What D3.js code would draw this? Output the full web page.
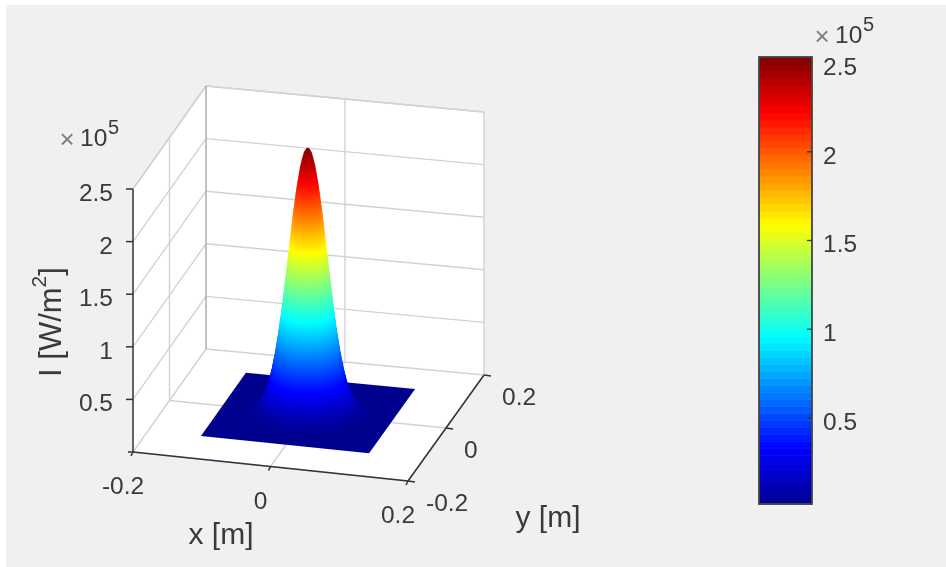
<!DOCTYPE html>
<html>
<head>
<meta charset="utf-8">
<script src="https://cdnjs.cloudflare.com/ajax/libs/d3/7.8.5/d3.min.js"></script>
<style>
html,body{margin:0;padding:0;background:#fff;overflow:hidden}
svg{display:block}
text{font-family:"Liberation Sans",Arial,sans-serif;fill:#3a3a3a}
#root{filter:blur(0.6px)}
</style>
</head>
<body>
<svg id="chart" width="946" height="567"></svg>
<script>
// ---- data ----
const xTicks = [-0.2, 0, 0.2];
const yTicks = [-0.2, 0, 0.2];
const zTicks = [0.5, 1, 1.5, 2, 2.5];
const cbTicks = [0.5, 1, 1.5, 2, 2.5];
const xLabels = ["-0.2", "0", "0.2"];
const yLabels = ["-0.2", "0", "0.2"];
const zLabels = ["0.5", "1", "1.5", "2", "2.5"];
const cbLabels = ["0.5", "1", "1.5", "2", "2.5"];
// radial beam profile: radius [m], intensity [1e5 W/m^2]
const profileRadius    = [0, 0.0025, 0.005, 0.0075, 0.01, 0.015, 0.02, 0.025, 0.03, 0.035, 0.04, 0.045, 0.05, 0.055, 0.06, 0.065, 0.07, 0.08, 0.09];
const profileIntensity = [2.534, 2.52, 2.49, 2.43, 2.36, 2.16, 1.91, 1.62, 1.33, 1.05, 0.80, 0.59, 0.42, 0.285, 0.195, 0.12, 0.07, 0.03, 0.015];
const plateHalfWidth = 0.122;
const zRange = [0, 2.5];
const colorRange = [0.015, 2.534];
const jetStops = [0, 0.125, 0.375, 0.625, 0.875, 1];
const jetColors = ["#00008f", "#0000ff", "#00ffff", "#ffff00", "#ff0000", "#800000"];

// ---- layout ----
const svg = d3.select("#chart");
const GRID = "#d2d2d2", EDGE = "#a8a8a8", AXIS = "#333333";
const c00 = [133, 452], c10 = [408, 481], c11 = [484, 375], c01 = [206, 349];
const u = d3.scaleLinear().domain([-0.2, 0.2]).range([0, 1]);
const v = d3.scaleLinear().domain([-0.2, 0.2]).range([0, 1]);
const zPx = d3.scaleLinear().domain(zRange).range([0, 263]);
function proj(x, y, z) {
  const a = u(x), b = v(y);
  const px = (1-a)*(1-b)*c00[0] + a*(1-b)*c10[0] + a*b*c11[0] + (1-a)*b*c01[0];
  const py = (1-a)*(1-b)*c00[1] + a*(1-b)*c10[1] + a*b*c11[1] + (1-a)*b*c01[1];
  return [px, py - zPx(z)];
}
const line = d3.line();
const jet = d3.scaleLinear().domain(jetStops).range(jetColors).clamp(true);
const colorT = d3.scaleLinear().domain(colorRange).range([0, 1]);
const colorOf = z => jet(colorT(z));
const lo = -0.2, hi = 0.2, zTop = zRange[1];

// figure background
svg.append("rect").attr("x", 6).attr("y", 5).attr("width", 940).attr("height", 562).attr("fill", "#f0f0f0");
const root = svg.append("g").attr("id", "root");

// axes panes
root.append("path").attr("fill", "#fff")
  .attr("d", line([proj(lo,lo,0), proj(hi,lo,0), proj(hi,hi,0), proj(hi,hi,zTop), proj(lo,hi,zTop), proj(lo,lo,zTop)]) + "Z");

// grid
const grid = root.append("g").attr("fill", "none").attr("stroke", GRID).attr("stroke-width", 1.4);
const seg = (a, b, col) => grid.append("path").attr("d", line([a, b])).attr("stroke", col || GRID);
zTicks.forEach(z => {
  seg(proj(lo,lo,z), proj(lo,hi,z));
  seg(proj(lo,hi,z), proj(hi,hi,z));
});
xTicks.forEach(x => {
  seg(proj(x,lo,0), proj(x,hi,0));
  if (x > lo && x < hi) seg(proj(x,hi,0), proj(x,hi,zTop));
});
yTicks.forEach(y => {
  seg(proj(lo,y,0), proj(hi,y,0));
  if (y > lo && y < hi) seg(proj(lo,y,0), proj(lo,y,zTop));
});
seg(proj(lo,lo,zTop), proj(lo,hi,zTop));
seg(proj(lo,hi,zTop), proj(hi,hi,zTop));
seg(proj(hi,hi,0), proj(hi,hi,zTop));
seg(proj(lo,hi,0), proj(lo,hi,zTop), EDGE);

// surface: base plate then stacked contour rings of the profile, low to high
const surf = root.append("g");
const base = profileIntensity[profileIntensity.length - 1];
const w = plateHalfWidth;
surf.append("path").attr("fill", colorOf(base))
  .attr("d", line([proj(-w,-w,base), proj(w,-w,base), proj(w,w,base), proj(-w,w,base)]) + "Z");
const radiusAt = d3.scaleLinear().domain(profileIntensity).range(profileRadius);
const peak = profileIntensity[0];
const levels = d3.range(base, peak, 0.008);
const angles = d3.range(0, 2 * Math.PI, Math.PI / 36);
surf.selectAll("path.ring").data(levels).join("path")
  .attr("class", "ring")
  .attr("fill", d => colorOf(d))
  .attr("stroke", d => colorOf(d))
  .attr("stroke-width", 0.6)
  .attr("d", z => {
    const r = radiusAt(z);
    return line(angles.map(t => proj(r * Math.cos(t), r * Math.sin(t), z))) + "Z";
  });

// axis lines
const ax = root.append("g").attr("fill", "none").attr("stroke", AXIS).attr("stroke-width", 1.5);
const axSeg = (a, b) => ax.append("path").attr("d", line([a, b]));
axSeg(proj(lo,lo,0), proj(hi,lo,0));
axSeg(proj(hi,lo,0), proj(hi,hi,0));
axSeg(proj(lo,lo,0), proj(lo,lo,zTop));
const shift = (p, dx, dy) => [p[0] + dx, p[1] + dy];
xTicks.forEach(x => { const p = proj(x,lo,0); axSeg(p, shift(p, -2, 4)); });
yTicks.forEach(y => { const p = proj(hi,y,0); axSeg(p, shift(p, 7, 1)); });
zTicks.forEach(z => { const p = proj(lo,lo,z); axSeg(p, shift(p, -7, 0)); });
{ const p = proj(lo,lo,0); axSeg(p, shift(p, -5, 0)); }

// tick labels
const FS = 24.5;
const label = (x, y, s, anchor, size) => root.append("text").attr("x", x).attr("y", y)
  .attr("text-anchor", anchor || "middle").attr("font-size", size || FS).text(s);
xTicks.forEach((x, i) => { const p = proj(x,lo,0); label(p[0] - 10, p[1] + 42, xLabels[i]); });
yTicks.forEach((y, i) => { const p = proj(hi,y,0); label(p[0] + 18, p[1] + 30, yLabels[i], "start"); });
zTicks.forEach((z, i) => { const p = proj(lo,lo,z); label(p[0] - 20, p[1] + 12, zLabels[i], "end"); });

// axis titles
label(221, 544, "x [m]", "middle", 30);
label(548, 527, "y [m]", "middle", 30);
const zt = root.append("text").attr("transform", "translate(61,322) rotate(-90)")
  .attr("text-anchor", "middle").attr("font-size", 31);
zt.append("tspan").text("I [W/m");
zt.append("tspan").attr("dy", -15).attr("font-size", 21).text("2");
zt.append("tspan").attr("dy", 15).text("]");

// exponent labels
function expo(xMark, xTen, y) {
  label(xMark, y + 2, "\u00d7", "middle", 26).style("fill", "#7f7f7f");
  label(xTen, y, "10", "start", FS);
  label(xTen + 28, y - 12, "5", "start", 20);
}
expo(67, 80, 146);
expo(822, 835, 43);

// colorbar
const cbBox = {x: 759, y: 57, w: 53, h: 447};
const cbY = d3.scaleLinear().domain(colorRange).range([cbBox.y + cbBox.h, cbBox.y]);
const bands = d3.range(64);
const band = d3.scaleBand().domain(bands).range([cbBox.y + cbBox.h, cbBox.y]);
root.append("g").selectAll("rect").data(bands).join("rect")
  .attr("x", cbBox.x).attr("width", cbBox.w)
  .attr("y", d => band(d)).attr("height", band.bandwidth() + 0.6)
  .attr("fill", d => jet((d + 0.5) / 64));
root.append("rect").attr("x", cbBox.x).attr("y", cbBox.y).attr("width", cbBox.w).attr("height", cbBox.h)
  .attr("fill", "none").attr("stroke", "#444").attr("stroke-width", 1.8);
cbTicks.forEach((t, i) => {
  root.append("path").attr("stroke", AXIS).attr("stroke-width", 1.3)
    .attr("d", line([[cbBox.x + cbBox.w, cbY(t)], [cbBox.x + cbBox.w - 5, cbY(t)]]));
  label(823, cbY(t) + 12, cbLabels[i], "start");
});
</script>
</body>
</html>
